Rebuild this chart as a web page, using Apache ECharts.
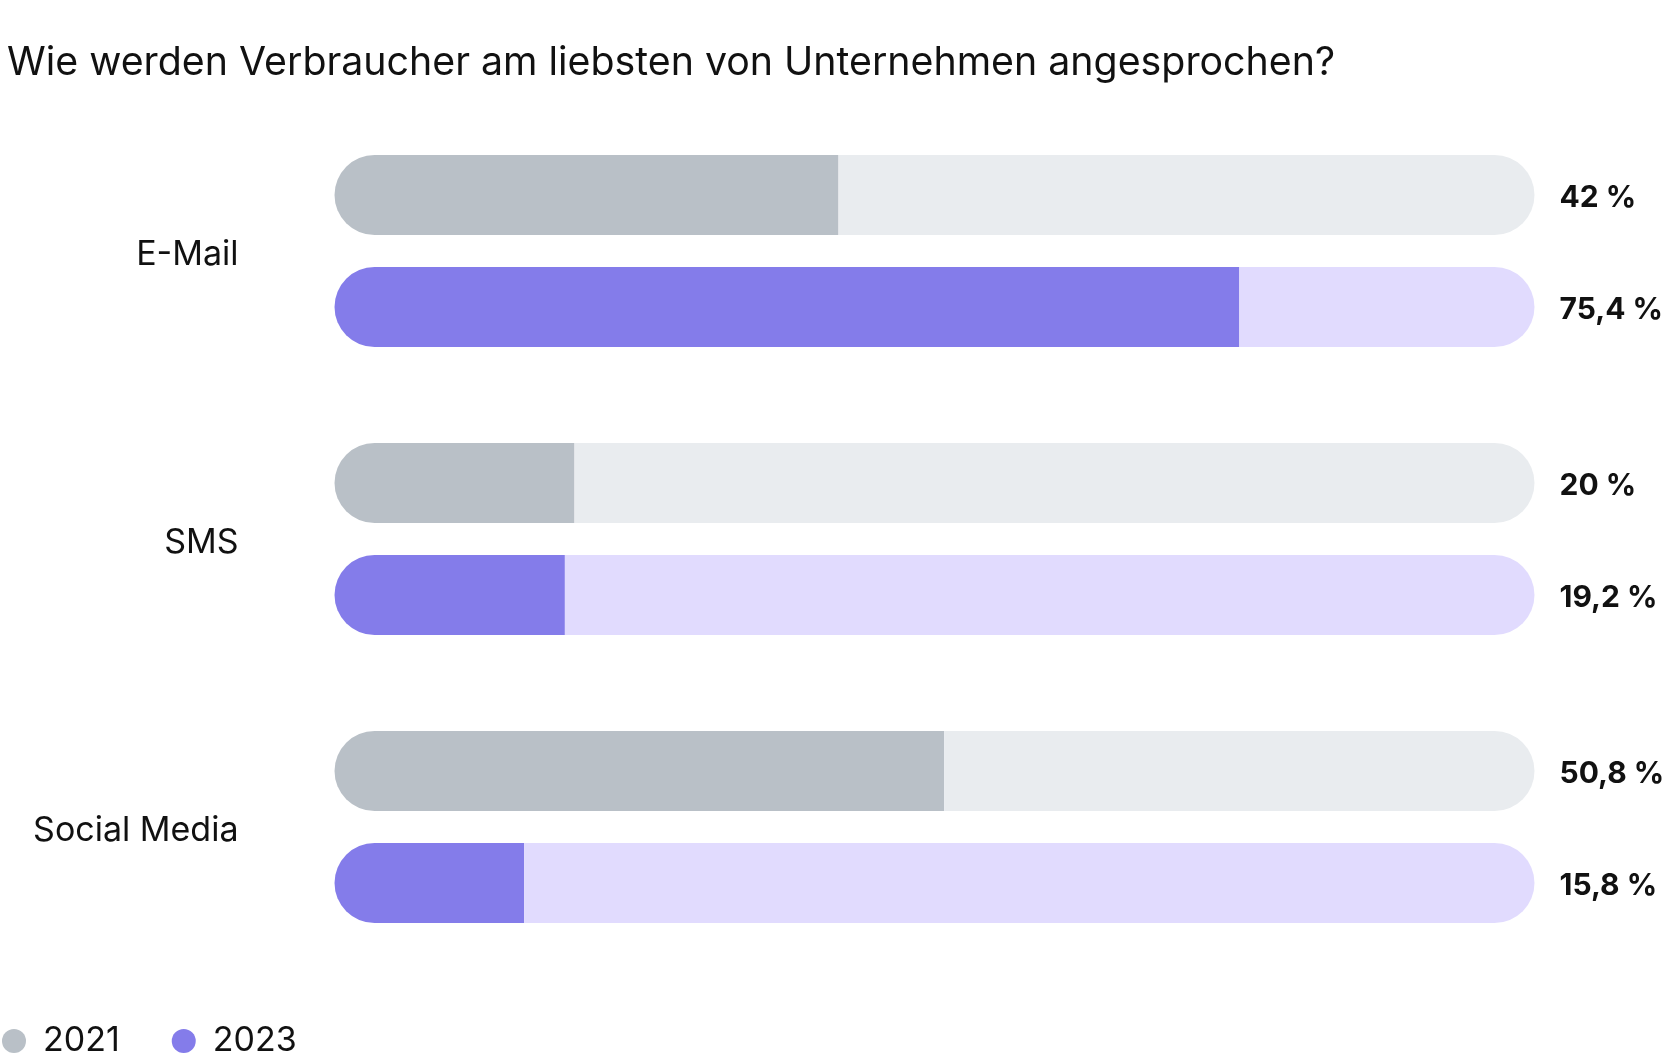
<!DOCTYPE html>
<html>
<head>
<meta charset="utf-8">
<script src="https://cdn.jsdelivr.net/npm/echarts@6/dist/echarts.min.js"></script>
<style>
  html, body { margin: 0; padding: 0; background: #fff; }
  #chart { width: 1665px; height: 1056px; }
</style>
</head>
<body>
<div id="chart"></div>
<script>
const title = 'Wie werden Verbraucher am liebsten von Unternehmen angesprochen?';
const categories = ['E-Mail', 'SMS', 'Social Media'];
const years = ['2021', '2023'];
const values2021 = [42, 20, 50.8];
const values2023 = [75.4, 19.2, 15.8];
const axisMax = 100;

const FONT = 'Inter';
const fmt = v => String(v).replace('.', ',') + ' %';

const chart = echarts.init(document.getElementById('chart'), null, { renderer: 'canvas' });

function pair(name, values, color, trackColor, stack) {
  return [
    {
      name: name,
      type: 'bar',
      stack: stack,
      barWidth: 80,
      barGap: '40%',
      color: color,
      itemStyle: { color: color, borderRadius: [40, 0, 0, 40] },
      emphasis: { disabled: true },
      data: values
    },
    {
      name: name + ' Rest',
      type: 'bar',
      stack: stack,
      barWidth: 80,
      barGap: '40%',
      itemStyle: { color: trackColor, borderRadius: [0, 40, 40, 0] },
      emphasis: { disabled: true },
      label: {
        show: true,
        position: 'right',
        distance: 25,
        offset: [0, 3],
        fontFamily: FONT,
        fontSize: 30,
        fontWeight: 'bold',
        color: '#111',
        formatter: p => fmt(values[p.dataIndex])
      },
      data: values.map(v => axisMax - v)
    }
  ];
}

const option = {
  animation: false,
  backgroundColor: '#ffffff',
  title: {
    text: title,
    left: 2,
    top: 39,
    textStyle: { fontFamily: FONT, fontSize: 39.3, fontWeight: 'normal', color: '#111' }
  },
  legend: {
    data: years,
    left: 2,
    top: 1024,
    padding: 0,
    icon: 'circle',
    itemWidth: 24,
    itemHeight: 24,
    itemGap: 52,
    textStyle: { fontFamily: FONT, fontSize: 34, color: '#111', padding: [0, 0, 0, 12] }
  },
  grid: { left: 334.5, top: 107, width: 1200, height: 864, containLabel: false },
  xAxis: {
    type: 'value',
    min: 0,
    max: axisMax,
    show: false
  },
  yAxis: {
    type: 'category',
    inverse: true,
    data: categories,
    axisLine: { show: false },
    axisTick: { show: false },
    splitLine: { show: false },
    axisLabel: {
      margin: 96,
      formatter: v => '{l|' + v + '}',
      rich: { l: { fontFamily: FONT, fontSize: 34, color: '#111', padding: [7, 0, 0, 0] } }
    }
  },
  series: [
    ...pair(years[0], values2021, '#B9C0C7', '#E9ECEF', 'a'),
    ...pair(years[1], values2023, '#847CEA', '#E1DBFE', 'b')
  ]
};
chart.setOption(option);
</script>
</body>
</html>
